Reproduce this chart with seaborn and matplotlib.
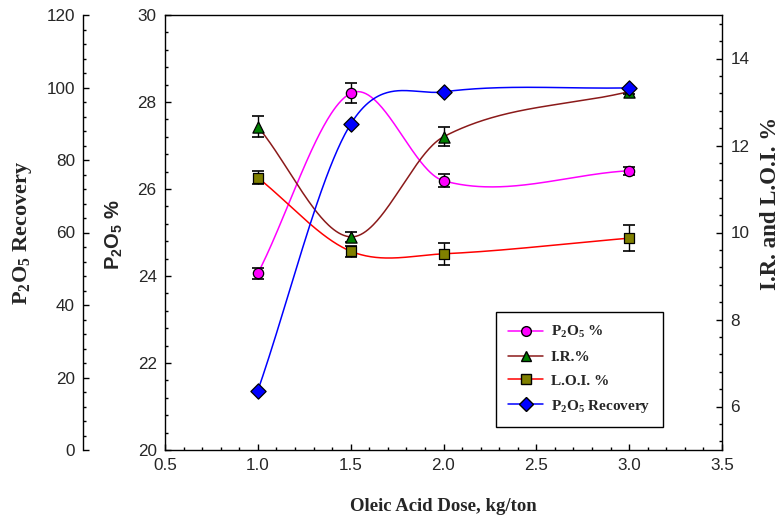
import numpy as np
import pandas as pd
import matplotlib
matplotlib.use("Agg")
import matplotlib.pyplot as plt
from matplotlib.ticker import MultipleLocator
from matplotlib.lines import Line2D
import seaborn as sns

# ---------------- data ----------------
dose = [1.0, 1.5, 2.0, 3.0]
p2o5_pct = [24.06, 28.20, 26.19, 26.42]
p2o5_pct_err = [0.12, 0.23, 0.15, 0.09]
ir_pct = [12.43, 9.90, 12.20, 13.24]
ir_pct_err = [0.24, 0.12, 0.22, 0.05]
loi_pct = [11.26, 9.57, 9.51, 9.87]
loi_pct_err = [0.15, 0.13, 0.26, 0.30]
recovery = [16.4, 89.9, 98.8, 99.9]

x_ticks = [0.5, 1.0, 1.5, 2.0, 2.5, 3.0, 3.5]
left_ticks = [20, 22, 24, 26, 28, 30]
rec_ticks = [0, 20, 40, 60, 80, 100, 120]
right_ticks = [6, 8, 10, 12, 14]

# ---------------- style ----------------
sns.set_style("ticks")
plt.rcParams.update({
    "font.family": ["Liberation Sans", "DejaVu Sans"],
    "mathtext.fontset": "custom",
    "mathtext.rm": "Liberation Serif:bold",
    "mathtext.it": "Liberation Serif:bold:italic",
    "mathtext.bf": "Liberation Serif:bold",
    "mathtext.sf": "Liberation Sans:bold",
    "axes.linewidth": 1.0,
})


def smooth_curve(x, y, n=300):
    """Catmull-Rom style cubic Hermite curve through the data points."""
    x = np.asarray(x, float)
    y = np.asarray(y, float)
    k = len(x)
    m = np.zeros(k)
    m[0] = (y[1] - y[0]) / (x[1] - x[0])
    m[-1] = (y[-1] - y[-2]) / (x[-1] - x[-2])
    for i in range(1, k - 1):
        m[i] = (y[i + 1] - y[i - 1]) / (x[i + 1] - x[i - 1])
    xs = np.linspace(x[0], x[-1], n)
    idx = np.clip(np.searchsorted(x, xs) - 1, 0, k - 2)
    h = x[idx + 1] - x[idx]
    t = (xs - x[idx]) / h
    h00 = 2 * t ** 3 - 3 * t ** 2 + 1
    h10 = t ** 3 - 2 * t ** 2 + t
    h01 = -2 * t ** 3 + 3 * t ** 2
    h11 = t ** 3 - t ** 2
    ys = h00 * y[idx] + h10 * h * m[idx] + h01 * y[idx + 1] + h11 * h * m[idx + 1]
    return xs, ys


fig = plt.figure(figsize=(7.82, 5.19), dpi=100)
W, H = 782, 519
L, R, T, B = 165, 722, 15, 450
ax = fig.add_axes([L / W, 1 - B / H, (R - L) / W, (B - T) / H])
ax_r = ax.twinx()    # I.R. and L.O.I.
ax_rec = ax.twinx()  # P2O5 recovery (outer left)

tick_font = dict(fontsize=12.3, family="Liberation Sans")

# main axis
ax.set_xlim(0.5, 3.5)
ax.set_ylim(20, 30)
ax.set_xticks(x_ticks)
ax.set_xticklabels([f"{v:.1f}" for v in x_ticks], **tick_font)
ax.set_yticks(left_ticks)
ax.set_yticklabels([str(v) for v in left_ticks], **tick_font)
ax.xaxis.set_minor_locator(MultipleLocator(0.1))
ax.yaxis.set_minor_locator(MultipleLocator(0.4))
ax.tick_params(which="both", direction="in", top=False, right=False, color="black")
ax.tick_params(which="major", length=4, width=1, pad=6)
ax.tick_params(which="minor", length=2.2, width=1)
ax.spines["right"].set_visible(False)
for s in ["left", "bottom", "top"]:
    ax.spines[s].set_color("black")
    ax.spines[s].set_linewidth(1.0)

# right axis
ax_r.set_ylim(5, 15)
ax_r.set_yticks(right_ticks)
ax_r.set_yticklabels([str(v) for v in right_ticks], **tick_font)
ax_r.yaxis.set_minor_locator(MultipleLocator(0.4))
ax_r.tick_params(which="both", direction="in", color="black")
ax_r.tick_params(which="major", length=4, width=1, pad=6)
ax_r.tick_params(which="minor", length=2.2, width=1)
for s in ["left", "top", "bottom"]:
    ax_r.spines[s].set_visible(False)
ax_r.spines["right"].set_color("black")

# recovery axis (outer left)
ax_rec.set_ylim(0, 120)
ax_rec.yaxis.set_ticks_position("left")
ax_rec.yaxis.set_label_position("left")
ax_rec.spines["left"].set_visible(True)
ax_rec.spines["left"].set_position(("axes", (83.3 - L) / (R - L)))
ax_rec.spines["left"].set_color("black")
for s in ["right", "top", "bottom"]:
    ax_rec.spines[s].set_visible(False)
ax_rec.set_yticks(rec_ticks)
ax_rec.set_yticklabels([str(v) for v in rec_ticks], **tick_font)
ax_rec.yaxis.set_minor_locator(MultipleLocator(4))
ax_rec.tick_params(which="both", direction="in", color="black")
ax_rec.tick_params(which="major", length=4, width=1, pad=6)
ax_rec.tick_params(which="minor", length=2.2, width=1)

# ---------------- series ----------------
series = [
    (ax, dose, p2o5_pct, p2o5_pct_err, "#ff00ff", "o", "#ff00ff", 55),
    (ax_r, dose, ir_pct, ir_pct_err, "#8b1a1a", "^", "#008000", 65),
    (ax_r, dose, loi_pct, loi_pct_err, "#ff0000", "s", "#808000", 60),
    (ax_rec, dose, recovery, None, "#0000ff", "D", "#0000ff", 60),
]
for a, xv, yv, err, lc, mk, fc, sz in series:
    xs, ys = smooth_curve(xv, yv)
    sns.lineplot(x=xs, y=ys, ax=a, color=lc, linewidth=1.1, sort=False,
                 estimator=None, zorder=2, legend=False)
    if err is not None:
        a.errorbar(xv, yv, yerr=err, fmt="none", ecolor="black", elinewidth=1.0,
                   capsize=4, capthick=1.2, zorder=3)
    df = pd.DataFrame({"x": xv, "y": yv})
    sns.scatterplot(data=df, x="x", y="y", ax=a, marker=mk, s=sz, color=fc,
                    edgecolor="black", linewidth=0.9, zorder=4, legend=False)

for a in (ax, ax_r, ax_rec):
    a.set_xlabel("")
    a.set_ylabel("")
ax.set_xlim(0.5, 3.5)

# ---------------- labels ----------------
serif_bold = dict(family="Liberation Serif", fontweight="bold")
ax.set_xlabel("Oleic Acid Dose, kg/ton", fontsize=13.5, **serif_bold)
ax.xaxis.set_label_coords(0.5, -(498 - B) / (B - T))
ax.set_ylabel(r"P$_\mathsf{2}$O$_\mathsf{5}$ %", fontsize=14.5,
              family="Liberation Sans", fontweight="bold")
ax.yaxis.set_label_coords((124 - L) / (R - L), (B - 234) / (B - T))
ax_rec.set_ylabel(r"P$_2$O$_5$ Recovery", fontsize=16, **serif_bold)
ax_rec.yaxis.set_label_coords((34 - L) / (R - L), (B - 233) / (B - T))
ax_r.set_ylabel("I.R. and L.O.I. %", fontsize=16.5, **serif_bold)
ax_r.yaxis.set_label_coords((760 - L) / (R - L), (B - 203) / (B - T))

# ---------------- legend ----------------
handles = [
    Line2D([], [], color="#ff00ff", lw=1.1, marker="o", markersize=7,
           markerfacecolor="#ff00ff", markeredgecolor="black"),
    Line2D([], [], color="#8b1a1a", lw=1.1, marker="^", markersize=7.5,
           markerfacecolor="#008000", markeredgecolor="black"),
    Line2D([], [], color="#ff0000", lw=1.1, marker="s", markersize=7,
           markerfacecolor="#808000", markeredgecolor="black"),
    Line2D([], [], color="#0000ff", lw=1.1, marker="D", markersize=7,
           markerfacecolor="#0000ff", markeredgecolor="black"),
]
labels = [r"P$_2$O$_5$ %", "I.R.%", "L.O.I. %", r"P$_2$O$_5$ Recovery"]
leg = ax_rec.legend(handles, labels, loc="lower left",
                    bbox_to_anchor=(496 / W, 1 - 427 / H), bbox_transform=fig.transFigure,
                    prop=dict(family="Liberation Serif", weight="bold", size=11),
                    frameon=True, fancybox=False, shadow=False, borderaxespad=0,
                    handlelength=2.3, handletextpad=0.5, labelspacing=0.66,
                    borderpad=0.8)
leg.get_frame().set_edgecolor("black")
leg.get_frame().set_linewidth(1.0)
leg.get_frame().set_alpha(1)

fig.savefig("out.png", dpi=100)
